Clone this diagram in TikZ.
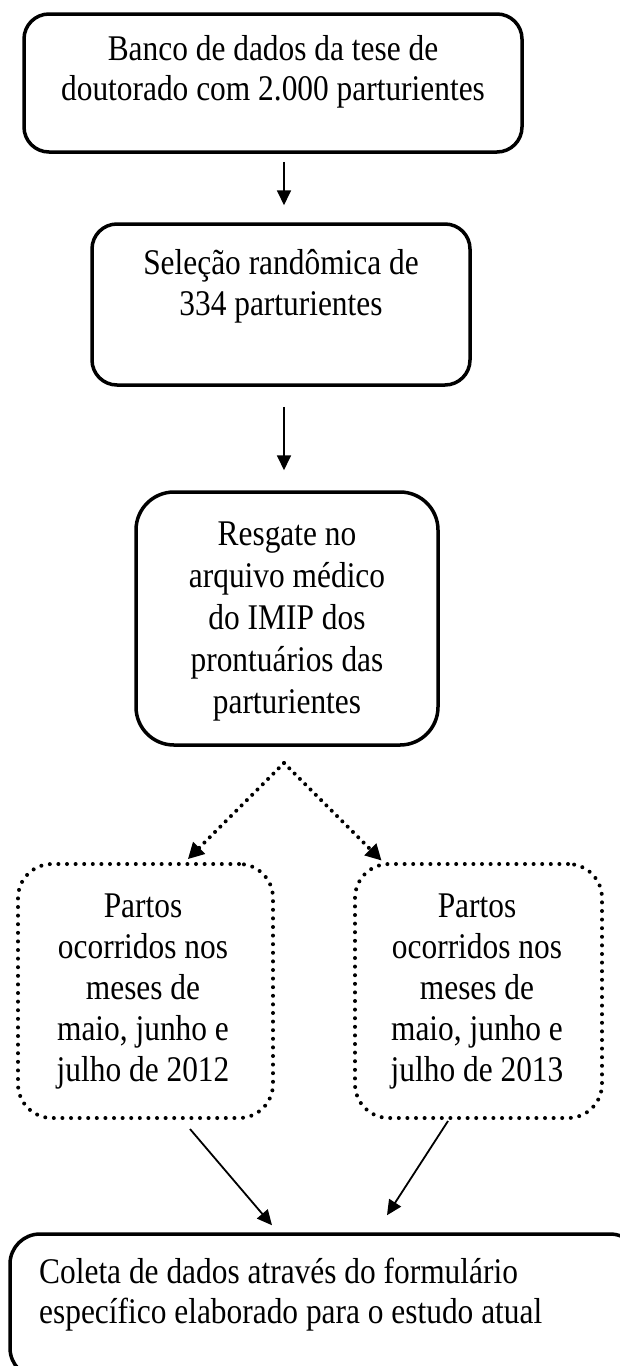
\documentclass[tikz,border=0pt]{standalone}
\usepackage{fontspec}
\usepackage{graphicx}
\setmainfont{Liberation Serif}
\usetikzlibrary{arrows.meta}
\newcommand{\vtxt}[2]{\scalebox{1}[1.15]{\fontsize{31.4}{#1}\selectfont\begin{tabular}{@{}c@{}}#2\end{tabular}}}
\newcommand{\vtxtl}[2]{\scalebox{1}[1.15]{\fontsize{31.4}{#1}\selectfont\begin{tabular}{@{}l@{}}#2\end{tabular}}}
\begin{document}
\begin{tikzpicture}[x=1pt,y=-1pt,
  solidbox/.style={draw, line width=3.5pt, rounded corners=25pt, inner sep=0pt},
  dotbox/.style={draw, line width=4pt, dash pattern=on 0pt off 8.6pt, line cap=round, rounded corners=34pt, inner sep=0pt},
  txt/.style={inner sep=0pt, anchor=north},
  arr/.style={line width=1.8pt, -{Triangle[length=15pt,width=14pt]}},
  dotarr/.style={line width=4pt, dash pattern=on 0pt off 7.5pt, line cap=round, -{Triangle[length=16pt,width=16pt]}}
]
\useasboundingbox (0,0) rectangle (619,1366);
\fill[white] (0,0) rectangle (619,1366);

\node[solidbox, minimum width=498pt, minimum height=138pt] (b1) at (273,83) {};
\node[solidbox, minimum width=378pt, minimum height=161pt] (b2) at (281,304.5) {};
\node[solidbox, rounded corners=38pt, minimum width=302pt, minimum height=253pt] (b3) at (287,618.5) {};
\node[dotbox, minimum width=255pt, minimum height=254pt] (d1) at (145.5,991) {};
\node[dotbox, minimum width=247pt, minimum height=254pt] (d2) at (478.5,991) {};
\node[solidbox, rounded corners=30pt, minimum width=630pt, minimum height=144pt] (b5) at (325,1306) {};

\node[txt] (t1) at (273,32) {\vtxt{34.78}{Banco de dados da tese de\\doutorado com 2.000 parturientes}};
\node[txt] (t2) at (281,245.3) {\vtxt{35.65}{Seleção randômica de\\334 parturientes}};
\node[txt] (t3) at (287,515.6) {\vtxt{36.52}{Resgate no\\arquivo médico\\do IMIP dos\\prontuários das\\parturientes}};
\node[txt] (t4) at (143,888.3) {\vtxt{35.65}{Partos\\ocorridos nos\\meses de\\maio, junho e\\julho de 2012}};
\node[txt] (t5) at (477,888.3) {\vtxt{35.65}{Partos\\ocorridos nos\\meses de\\maio, junho e\\julho de 2013}};
\node[txt, anchor=north west] (t6) at (39,1255) {\vtxtl{34.78}{Coleta de dados através do formulário\\específico elaborado para o estudo atual}};

\coordinate (ax) at (284,0);
\coordinate (apex) at (284,763);

\draw[arr, shorten <=8pt, shorten >=17pt] (b1.south -| ax) -- (b2.north -| ax);
\draw[arr, shorten <=20pt, shorten >=20pt] (b2.south -| ax) -- (b3.north -| ax);

\draw[dotarr, shorten >=4pt] (apex) -- ([xshift=39.5pt]d1.north);
\draw[dotarr, shorten >=2pt] (apex) -- ([xshift=-95.5pt]d2.north);

\draw[arr] ([xshift=44.5pt,yshift=-9pt]d1.south) -- ([xshift=-53pt,yshift=7pt]b5.north);
\draw[arr] ([xshift=-30.5pt,yshift=-1pt]d2.south) -- ([xshift=62pt,yshift=17pt]b5.north);
\end{tikzpicture}
\end{document}
